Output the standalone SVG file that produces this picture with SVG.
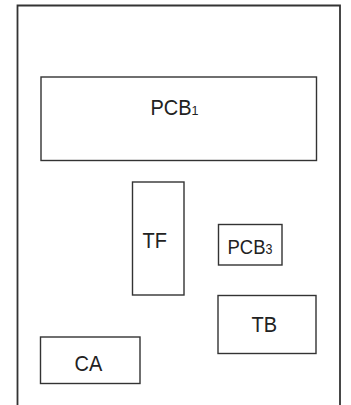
<svg xmlns="http://www.w3.org/2000/svg" width="351" height="405" viewBox="0 0 351 405">
<style>
.box{fill:#fff;stroke:#333;stroke-width:1.4}
.lbl{font-family:"Liberation Sans",Arial,sans-serif;font-size:20px;fill:#222}
.sub{font-size:12.5px}
</style>
<rect width="351" height="405" fill="#fff"/>
<g id="frame"><path d="M17.5,406 V5.5 H340 V406" fill="none" stroke="#333" stroke-width="1.8"/></g>
<g id="PCB1"><rect class="box" x="41" y="77" width="275.5" height="83.5"/><text class="lbl" transform="translate(150.5,115) scale(1,1.08)">PCB<tspan class="sub">1</tspan></text></g>
<g id="TF"><rect class="box" x="132.5" y="182" width="51.5" height="113"/><text class="lbl" transform="translate(142.5,248) scale(1,1.1)">TF</text></g>
<g id="PCB3"><rect class="box" x="218.5" y="224.5" width="63.5" height="40.5"/><text class="lbl" style="font-size:18.5px" transform="translate(227.5,253.5) scale(1,1.12)">PCB<tspan class="sub">3</tspan></text></g>
<g id="TB"><rect class="box" x="218" y="295.5" width="98" height="58"/><text class="lbl" transform="translate(251.5,332.3) scale(1,1.1)">TB</text></g>
<g id="CA"><rect class="box" x="40.5" y="337" width="99.5" height="46.5"/><text class="lbl" transform="translate(74.5,370.5) scale(1,1.1)">CA</text></g>
<g id="connectors"/>
</svg>
